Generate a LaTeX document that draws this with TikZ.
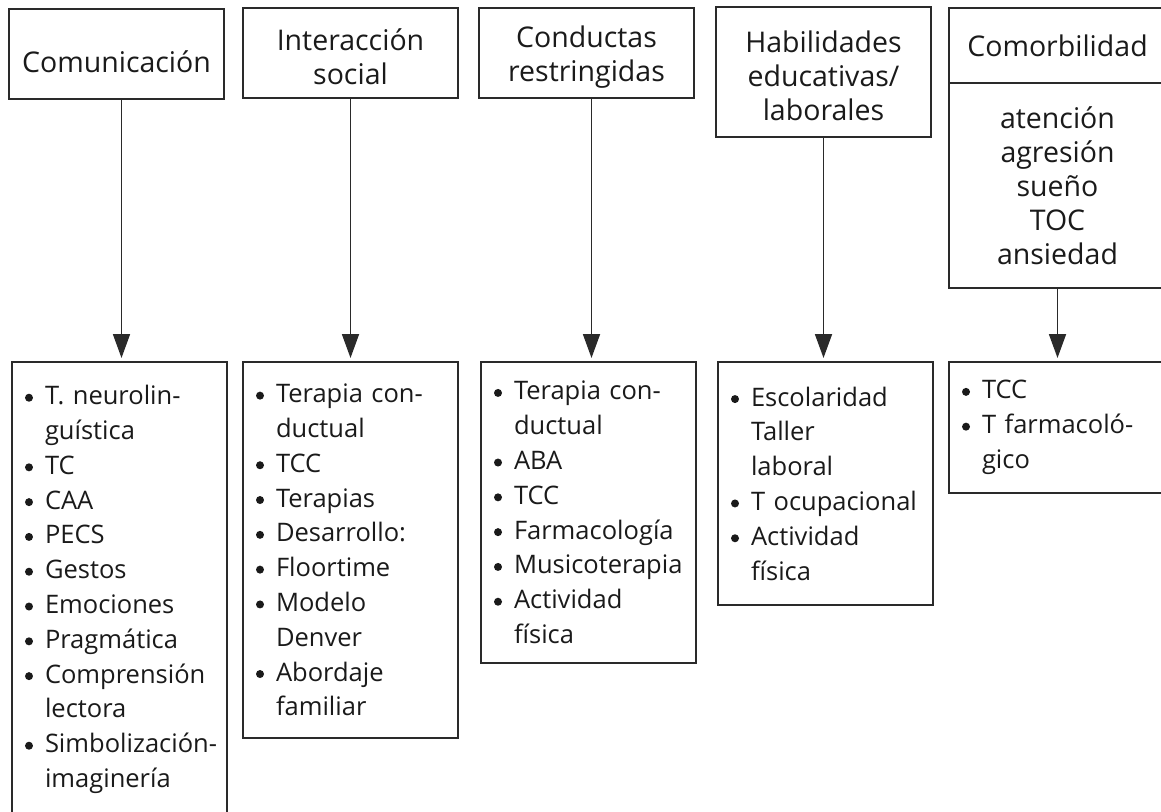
\documentclass[tikz,border=0pt]{standalone}
\usepackage{fontspec}
\setmainfont{Open Sans}
\usepackage{tikz}
\usetikzlibrary{arrows.meta,positioning}
\usepackage{xcolor}
\definecolor{linegray}{HTML}{2A2A2A}
\definecolor{textgray}{HTML}{1A1A1A}
\newcommand\headfont{\fontsize{28.5}{34}\selectfont}
\newcommand\listfont{\fontsize{25.5}{34.8}\selectfont}
\newcommand\ind{\leftskip=33pt\relax}
\newcommand\itm{\leavevmode\llap{\raisebox{3pt}{\tikz\fill[textgray] (0,0) circle (4pt);}\hspace{12pt}}}
\tikzset{
  area/.style={draw=linegray,line width=1.8pt,outer sep=0pt,inner sep=0pt,
    text=textgray,text width=215pt,align=center,font=\headfont,anchor=north west},
  treat/.style={draw=linegray,line width=1.8pt,outer sep=0pt,inner sep=0pt,
    text=textgray,text width=215pt,align=left,font=\listfont,anchor=north west},
  every node/.style={font=\small}
}
\tikzstyle{arrow} = [draw=linegray,line width=1.8pt,
  -{Triangle[length=24pt,width=17pt]},shorten >=4pt]

\begin{document}
\begin{tikzpicture}[x=1pt,y=-1pt,line cap=butt,line join=miter]
  % ---- page window ----
  \useasboundingbox (0,0) rectangle (1161,811);
  \clip (0,0) rectangle (1161,811);

  % ---- areas (top row) ----
  \node[area,minimum height=90pt]  (comun)  at (9,9)   {\rule{0pt}{38pt}Comunicación};
  \node[area,minimum height=90pt]  (inter)  at (243,8) {\rule{0pt}{30pt}Interacción\\social};
  \node[area,minimum height=90pt]  (conduc) at (479,8) {\rule{0pt}{30pt}Conductas\\restringidas};
  \node[area,minimum height=130pt] (habil)  at (716,7) {\rule{0pt}{30pt}Habilidades\\educativas/\\laborales};
  \node[area,minimum height=75pt,text width=217pt] (comor) at (949,8) {Comorbilidad};
  \node[area,minimum height=205pt,text width=217pt,below=0pt of comor] (comorlist)
    {atención\\agresión\\sueño\\TOC\\ansiedad};

  % ---- treatments (bottom row) ----
  \node[treat,minimum height=455pt] (tcomun) at (12,362) {\ind
    \itm T. neurolin-\\guística\\\itm TC\\\itm CAA\\\itm PECS\\\itm Gestos\\
    \itm Emociones\\\itm Pragmática\\\itm Comprensión\\lectora\\
    \itm Simbolización-\\imaginería\par};
  \node[treat,minimum height=376pt] (tinter) at (243,362) {\ind
    \itm Terapia con-\\ductual\\\itm TCC\\\itm Terapias\\\itm Desarrollo:\\
    \itm Floortime\\\itm Modelo\\Denver\\\itm Abordaje\\familiar\par};
  \node[treat,minimum height=301pt] (tconduc) at (481,362) {\ind
    \itm Terapia con-\\ductual\\\itm ABA\\\itm TCC\\\itm Farmacología\\
    \itm Musicoterapia\\\itm Actividad\\física\par};
  \node[treat,minimum height=243pt] (thabil) at (718,362) {\ind
    \itm Escolaridad\\Taller\\laboral\\\itm T ocupacional\\\itm Actividad\\física\par};
  \node[treat,minimum height=131pt,text width=217pt] (tcomor) at (949,362) {\ind
    \itm TCC\\\itm T farmacoló-\\gico\par};

  % ---- arrows ----
  \draw[arrow] ([xshift=5pt]comun.south) -- ([xshift=5pt]comun.south |- tcomun.north);
  \draw[arrow] (inter.south) -- (inter.south |- tinter.north);
  \draw[arrow] ([xshift=5pt]conduc.south) -- ([xshift=5pt]conduc.south |- tconduc.north);
  \draw[arrow] (habil.south) -- (habil.south |- thabil.north);
  \draw[arrow] (comorlist.south) -- (comorlist.south |- tcomor.north);
\end{tikzpicture}
\end{document}
